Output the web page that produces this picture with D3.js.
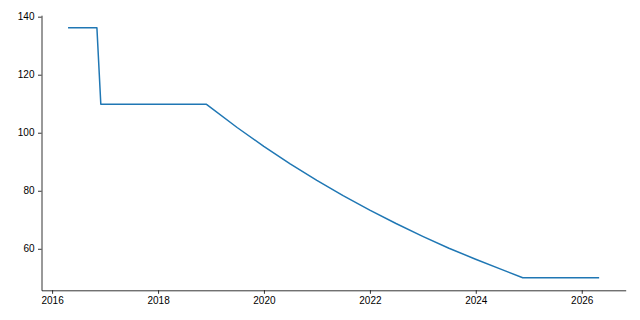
<!DOCTYPE html>
<html>
<head>
<meta charset="UTF-8">
<title></title>
<script src="https://d3js.org/d3.v7.min.js"></script>
<style>
    body { margin: 0; background: #fff; }
    svg { display: block; font-family: "DejaVu Sans", sans-serif; }
</style>
</head>
<body>
<div id="chart"></div>
<script>
// values
var dates = ["2016-04-20", "2016-11-05", "2016-12-02", "2018-12-01",
    "2019-06-30", "2019-12-31", "2020-06-30", "2020-12-31", "2021-06-30",
    "2021-12-31", "2022-06-30", "2022-12-31", "2023-06-30", "2023-12-31",
    "2024-06-30", "2024-11-20", "2026-05-01"];
var values = [136.2, 136.2, 109.8, 109.8,
    101.8, 95.3, 89.3, 83.6, 78.3,
    73.3, 68.7, 64.3, 60.2, 56.4,
    52.8, 50.0, 50.0];
var yTicks = [60, 80, 100, 120, 140];
var xTickYears = [2016, 2018, 2020, 2022, 2024, 2026];

var parse = d3.timeParse("%Y-%m-%d");
var data = dates.map((d, i) => ({ date: parse(d), value: values[i] }));

var width = 640, height = 320;
var margin = { top: 15.2, right: 14.3, bottom: 29.7, left: 41.5 };

var svg = d3.select("#chart")
    .append("svg")
    .attr("width", width)
    .attr("height", height);

// 5% padding like matplotlib
var xExt = d3.extent(data, d => d.date);
var xPad = (xExt[1] - xExt[0]) * 0.05;
var x = d3.scaleTime()
    .domain([new Date(+xExt[0] - xPad), new Date(+xExt[1] + xPad)])
    .range([margin.left, width - margin.right]);

var yExt = d3.extent(data, d => d.value);
var yPad = (yExt[1] - yExt[0]) * 0.05;
var y = d3.scaleLinear()
    .domain([yExt[0] - yPad, yExt[1] + yPad])
    .range([height - margin.bottom, margin.top]);

svg.append("g")
    .attr("transform", "translate(0," + (height - margin.bottom) + ")")
    .call(d3.axisBottom(x)
        .tickValues(xTickYears.map(yr => new Date(yr, 0, 1)))
        .tickFormat(d3.timeFormat("%Y"))
        .tickSize(3.5).tickPadding(3.5).tickSizeOuter(0));

svg.append("g")
    .attr("transform", "translate(" + margin.left + ",0)")
    .call(d3.axisLeft(y)
        .tickValues(yTicks)
        .tickSize(3.5).tickPadding(3.5).tickSizeOuter(0));

svg.selectAll(".domain").attr("stroke", "#000").attr("stroke-width", 0.8);
svg.selectAll(".tick line").attr("stroke", "#000").attr("stroke-width", 0.8);
svg.selectAll(".tick text").attr("fill", "#000").style("font-size", "10px");

var line = d3.line()
    .x(d => x(d.date))
    .y(d => y(d.value));

svg.append("path")
    .datum(data)
    .attr("fill", "none")
    .attr("stroke", "#1f77b4")
    .attr("stroke-width", 1.5)
    .attr("stroke-linejoin", "round")
    .attr("d", line);
</script>
</body>
</html>
